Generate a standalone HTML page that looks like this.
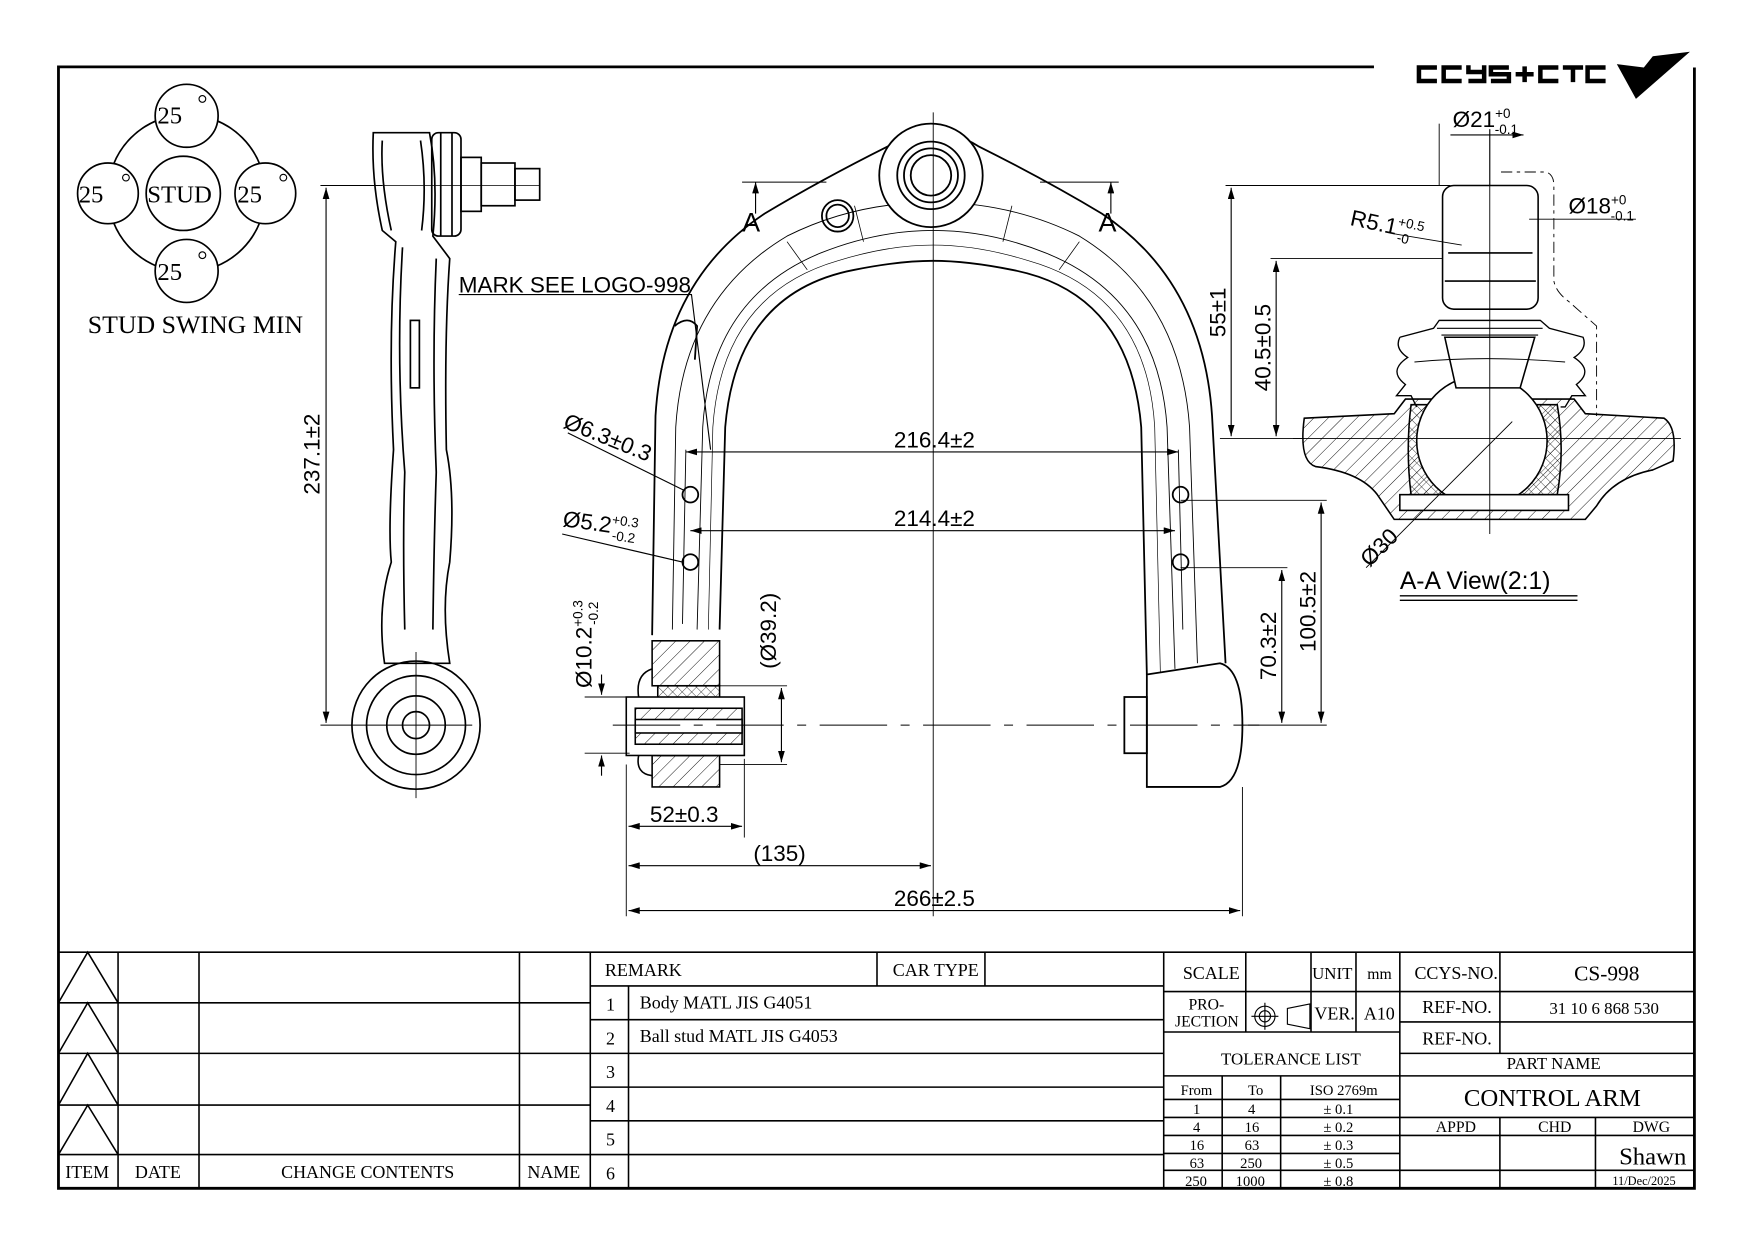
<!DOCTYPE html>
<html><head><meta charset="utf-8"><style>
html,body{margin:0;padding:0;background:#fff;}
svg{display:block}
.s{font-family:"Liberation Serif",serif;fill:#000}
.a{font-family:"Liberation Sans",sans-serif;fill:#000}
</style></head><body>
<svg width="1754" height="1240" viewBox="0 0 1560 1103" preserveAspectRatio="none" xmlns="http://www.w3.org/2000/svg">
<defs>
<pattern id="h" patternUnits="userSpaceOnUse" width="9" height="9" patternTransform="rotate(45)"><line x1="0" y1="0" x2="0" y2="9" stroke="#000" stroke-width="0.8"/></pattern>
<pattern id="x" patternUnits="userSpaceOnUse" width="6" height="6" patternTransform="rotate(45)"><path d="M0 0V6M0 0H6" stroke="#000" stroke-width="0.6"/></pattern>
<marker id="ar" viewBox="0 0 10 6" refX="10" refY="3" markerWidth="10" markerHeight="6" orient="auto-start-reverse" markerUnits="userSpaceOnUse"><path d="M0 0L10 3L0 6z"/></marker>
</defs>
<rect width="1560" height="1103" fill="#fff"/>
<g stroke="#000" stroke-width="2.5" fill="none">
<path d="M1222 59.5H52V1057H1507V60"/>
</g>
<!-- logo -->
<g fill="none" stroke="#000" stroke-width="4">
<path d="M1278 60H1262V72H1278M1300 60H1284V72H1300M1306 58V64H1320V58M1320 64V72H1306M1342 60H1326V66H1342V72H1326M1348 66H1364M1356 59V73M1386 60H1370V72H1386M1390 60H1408M1399 60V73M1428 60H1412V72H1428"/>
</g>
<path d="M1438 57L1455 88L1503 46L1470 50L1462 60Z" fill="#000"/>
<!-- stud swing -->
<g stroke="#000" stroke-width="1.5" fill="#fff">
<circle cx="166" cy="172" r="70"/>
<circle cx="166" cy="103" r="28"/>
<circle cx="96" cy="172" r="27"/>
<circle cx="236" cy="172" r="27"/>
<circle cx="166" cy="241" r="28"/>
<circle cx="163" cy="172" r="33"/>
</g>
<g class="s" font-size="22"><text x="140" y="110">25</text><text x="70" y="180">25</text><text x="211" y="180">25</text><text x="140" y="249">25</text><text x="131" y="180">STUD</text>
<text x="78" y="296" font-size="23">STUD SWING MIN</text></g>
<g fill="none" stroke="#000" stroke-width="1"><circle cx="180" cy="88" r="3"/><circle cx="112" cy="158" r="3"/><circle cx="252" cy="158" r="3"/><circle cx="180" cy="227" r="3"/></g>
<!-- side view -->
<g stroke="#000" stroke-width="1.5" fill="none">
<path d="M332 118Q330 160 340 205L352 215Q345 300 350 400Q345 470 348 500Q335 540 342 590L400 590Q392 540 400 500Q405 440 397 400Q395 300 400 230L385 210Q390 160 382 118Z"/>
<path d="M340 125Q338 160 348 205M374 125Q380 165 375 205M358 220Q352 320 360 420Q358 480 360 560M388 230Q384 320 388 420Q386 480 385 560"/>
<rect x="384" y="118" width="26" height="92" rx="6"/>
<path d="M392 118V210M402 118V210"/>
<rect x="410" y="140" width="18" height="48"/>
<rect x="428" y="145" width="30" height="38"/><rect x="458" y="150" width="22" height="28"/>
<circle cx="370" cy="645" r="57"/><circle cx="370" cy="645" r="44"/><circle cx="370" cy="645" r="26"/><circle cx="370" cy="645" r="12"/>
<rect x="365" y="285" width="8" height="60"/>
<line x1="332" y1="165" x2="480" y2="165" stroke-width="0.7"/>
</g>
<g stroke="#000" stroke-width="0.8"><line x1="285" y1="165" x2="340" y2="165"/><line x1="285" y1="645" x2="420" y2="645"/><line x1="370" y1="580" x2="370" y2="710"/></g>
<line x1="290" y1="167" x2="290" y2="643" stroke="#000" stroke-width="1" marker-start="url(#ar)" marker-end="url(#ar)"/>
<text class="a" font-size="20" transform="translate(284 440) rotate(-90)">237.1±2</text>
<!-- main arm -->
<g stroke="#000" stroke-width="1.6" fill="none">
<path d="M580 565L583 370Q590 250 680 190Q730 160 790 130Q830 105 870 130Q930 160 980 190Q1070 250 1078 370L1090 590"/>
<path d="M640 560L645 380Q655 260 760 240Q800 232 830 232Q860 232 900 240Q1005 260 1015 380L1020 600"/>
<path d="M598 560L601 380Q608 265 700 210Q760 180 830 180Q900 180 960 210Q1050 265 1058 380L1065 590" stroke-width="0.8"/>
<path d="M620 560L625 380Q632 265 730 225Q780 205 830 205Q880 205 930 225Q1030 265 1038 380L1045 595" stroke-width="0.8"/>
<path d="M630 560L634 380Q642 262 745 232Q790 218 830 218Q870 218 915 232Q1020 262 1027 380L1032 598" stroke-width="0.6"/>
<path d="M607 555L610 400M1048 400L1052 560" stroke-width="0.8"/>
<path d="M700 215L718 240M960 215L942 240M760 183L768 215M900 183L892 215" stroke-width="0.7"/>
<circle cx="828" cy="156" r="46" fill="#fff"/><circle cx="828" cy="156" r="30"/><circle cx="828" cy="156" r="24"/><circle cx="828" cy="156" r="18"/>
<circle cx="745" cy="192" r="14"/><circle cx="745" cy="192" r="10"/>
<circle cx="614" cy="440" r="7"/><circle cx="614" cy="500" r="7"/><circle cx="1050" cy="440" r="7"/><circle cx="1050" cy="500" r="7"/>
<path d="M600 290Q612 280 620 290L618 320"/>
<path d="M1085 590Q1105 595 1105 645Q1105 695 1085 700L1020 700L1020 600Z"/>
<rect x="1000" y="620" width="20" height="50"/>
</g>
<!-- left bushing -->
<g stroke="#000" stroke-width="1.4">
<rect x="580" y="570" width="60" height="40" fill="url(#h)"/>
<rect x="580" y="672" width="60" height="28" fill="url(#h)"/>
<rect x="585" y="610" width="55" height="12" fill="url(#x)"/>
<rect x="585" y="660" width="55" height="12" fill="url(#x)"/>
<rect x="557" y="620" width="105" height="52" fill="#fff"/>
<rect x="565" y="630" width="95" height="32" fill="url(#h)"/>
<rect x="565" y="640" width="95" height="12" fill="#fff"/>
<path d="M580 595Q565 600 568 620M580 690Q565 688 568 672" fill="none"/>
</g>
<!-- centerlines -->
<g stroke="#000" stroke-width="0.8" fill="none">
<line x1="830" y1="100" x2="830" y2="815"/>
<line x1="545" y1="645" x2="1120" y2="645" stroke-dasharray="60 12 8 12"/>
<line x1="660" y1="162" x2="735" y2="162"/><line x1="925" y1="162" x2="995" y2="162"/>
<line x1="557" y1="680" x2="557" y2="815"/><line x1="662" y1="675" x2="662" y2="745"/><line x1="1105" y1="700" x2="1105" y2="815"/>
<line x1="640" y1="610" x2="700" y2="610"/><line x1="640" y1="680" x2="700" y2="680"/>
<line x1="520" y1="620" x2="560" y2="620"/><line x1="520" y1="670" x2="560" y2="670"/>
<line x1="1090" y1="165" x2="1290" y2="165"/><line x1="1085" y1="390" x2="1160" y2="390"/><line x1="1130" y1="230" x2="1290" y2="230"/>
<line x1="1050" y1="445" x2="1180" y2="445"/><line x1="1050" y1="505" x2="1145" y2="505"/><line x1="1110" y1="645" x2="1180" y2="645"/>
</g>
<g stroke="#000" stroke-width="1" fill="none">
<line x1="672" y1="162" x2="672" y2="190" marker-start="url(#ar)"/><line x1="988" y1="162" x2="988" y2="190" marker-start="url(#ar)"/>
<line x1="610" y1="402" x2="1048" y2="402" marker-start="url(#ar)" marker-end="url(#ar)"/>
<line x1="614" y1="472" x2="1045" y2="472" marker-start="url(#ar)" marker-end="url(#ar)"/>
<line x1="559" y1="735" x2="660" y2="735" marker-start="url(#ar)" marker-end="url(#ar)"/>
<line x1="559" y1="770" x2="828" y2="770" marker-start="url(#ar)" marker-end="url(#ar)"/>
<line x1="559" y1="810" x2="1103" y2="810" marker-start="url(#ar)" marker-end="url(#ar)"/>
<line x1="695" y1="612" x2="695" y2="678" marker-start="url(#ar)" marker-end="url(#ar)"/>
<line x1="535" y1="600" x2="535" y2="618" marker-end="url(#ar)"/><line x1="535" y1="690" x2="535" y2="672" marker-end="url(#ar)"/>
<line x1="1095" y1="167" x2="1095" y2="388" marker-start="url(#ar)" marker-end="url(#ar)"/>
<line x1="1135" y1="232" x2="1135" y2="388" marker-start="url(#ar)" marker-end="url(#ar)"/>
<line x1="1140" y1="507" x2="1140" y2="643" marker-start="url(#ar)" marker-end="url(#ar)"/>
<line x1="1175" y1="447" x2="1175" y2="643" marker-start="url(#ar)" marker-end="url(#ar)"/>
<path d="M408 262H615L632 400" /><path d="M505 385L608 436"/><path d="M500 475L607 500"/>
</g>
<g class="a" font-size="20">
<text x="660" y="206" font-size="24">A</text><text x="977" y="206" font-size="24">A</text>
<text x="408" y="260">MARK SEE LOGO-998</text>
<text x="795" y="398">216.4±2</text><text x="795" y="468">214.4±2</text>
<text x="578" y="731">52±0.3</text><text x="670" y="766">(135)</text><text x="795" y="806">266±2.5</text>
<text transform="translate(690 595) rotate(-90)">(Ø39.2)</text>
<text transform="translate(526 612) rotate(-90)">Ø10.2<tspan font-size="12" dy="-8">+0.3</tspan><tspan font-size="12" dx="-22" dy="14">-0.2</tspan></text>
<text transform="translate(500 380) rotate(22)">Ø6.3±0.3</text>
<text transform="translate(500 468) rotate(8)">Ø5.2<tspan font-size="12" dy="-8">+0.3</tspan><tspan font-size="12" dx="-22" dy="14">-0.2</tspan></text>
<text transform="translate(1090 300) rotate(-90)">55±1</text>
<text transform="translate(1130 348) rotate(-90)">40.5±0.5</text>
<text transform="translate(1135 605) rotate(-90)">70.3±2</text>
<text transform="translate(1170 580) rotate(-90)">100.5±2</text>
</g>
<!-- A-A view -->
<g stroke="#000" stroke-width="1.4">
<path d="M1160 372L1240 368L1250 355L1400 355L1410 368L1480 372Q1492 380 1488 410L1470 418Q1435 425 1420 450L1410 462L1240 462L1225 440Q1210 420 1170 415Q1155 410 1160 372Z" fill="url(#h)"/>
<path d="M1255 360Q1250 400 1255 440L1385 440Q1392 400 1385 360Z" fill="url(#x)"/>
<circle cx="1318" cy="392" r="58" fill="#fff"/>
<rect x="1245" y="440" width="150" height="14" fill="#fff"/>
<rect x="1283" y="165" width="85" height="110" rx="10" fill="#fff"/>
<path d="M1288 225H1363M1285 250H1366" fill="none"/>
<path d="M1245 300L1275 292L1280 285H1370L1378 292L1408 300Q1412 310 1400 318Q1418 330 1402 342L1410 352H1398L1392 362H1388M1245 300Q1240 310 1252 318Q1234 330 1250 342L1242 352H1255L1260 362" fill="none" stroke-width="1.2"/>
<path d="M1280 285H1370M1278 292H1372M1282 298H1368" fill="none" stroke-width="1"/>
<path d="M1285 300L1365 300L1352 345L1295 345Z" fill="#fff"/>
<path d="M1258 322Q1320 316 1392 322" fill="none" stroke-width="0.8"/>
</g>
<g stroke="#000" stroke-width="0.8" fill="none">
<line x1="1325" y1="115" x2="1325" y2="475"/><line x1="1150" y1="390" x2="1495" y2="390"/>
<line x1="1280" y1="110" x2="1280" y2="165"/><line x1="1325" y1="115" x2="1325" y2="165"/>
<path d="M1335 153H1375Q1382 155 1382 165V250Q1384 260 1395 268L1420 290V370" stroke-dasharray="10 4 3 4"/>
<line x1="1215" y1="505" x2="1345" y2="375"/>
<line x1="1240" y1="208" x2="1300" y2="218"/>
<line x1="1360" y1="195" x2="1455" y2="195"/>
</g>
<line x1="1290" y1="120" x2="1355" y2="120" stroke="#000" stroke-width="1" marker-end="url(#ar)"/>
<g class="a" font-size="20">
<text x="1292" y="113">Ø21<tspan font-size="12" dy="-8">+0</tspan><tspan font-size="12" dx="-14" dy="14">-0.1</tspan></text>
<text x="1395" y="190">Ø18<tspan font-size="12" dy="-8">+0</tspan><tspan font-size="12" dx="-14" dy="14">-0.1</tspan></text>
<text transform="translate(1200 200) rotate(12)">R5.1<tspan font-size="12" dy="-8">+0.5</tspan><tspan font-size="12" dx="-22" dy="14">-0</tspan></text>
<text transform="translate(1218 505) rotate(-45)">Ø30</text>
<text x="1245" y="524" font-size="22">A-A View(2:1)</text>
</g>
<path d="M1245 530H1403M1245 534H1403" stroke="#000" stroke-width="1.2"/>
<!-- title block -->
<g stroke="#000" stroke-width="1.4" fill="none">
<path d="M52 847H1507"/>
<path d="M105 847V1057M177 847V1057M462 847V1057M525 847V1057"/>
<path d="M52 892H525M52 937H525M52 983H525M52 1027H525"/>
<path d="M52 892L78 847L105 892M52 937L78 892L105 937M52 983L78 937L105 983M52 1027L78 983L105 1027"/>
<path d="M525 877H1035M559 877V1057M525 907H1035M525 937H1035M525 967H1035M525 997H1035M525 1027H1035"/>
<path d="M780 847V877M876 847V877"/>
<path d="M1035 847V1057M1245 847V1057"/>
<path d="M1035 882H1245M1108 847V918M1166 847V918M1206 847V918M1035 918H1245M1035 957H1245M1035 978H1245M1035 994H1245M1035 1010H1245M1035 1026H1245M1035 1041H1245M1087 957V1057M1139 957V1057"/>
<path d="M1245 882H1507M1245 909H1507M1245 937H1507M1245 957H1507M1245 994H1507M1245 1010H1507M1245 1041H1507M1334 847V937M1334 994V1057M1419 994V1057"/>
</g>
<g fill="none" stroke="#000" stroke-width="1"><circle cx="1125" cy="904" r="9"/><circle cx="1125" cy="904" r="5"/><path d="M1113 904H1137M1125 892V916M1145 897L1165 893V915L1145 911Z"/></g>
<g class="s" font-size="16">
<text x="58" y="1048">ITEM</text><text x="120" y="1048">DATE</text><text x="250" y="1048">CHANGE CONTENTS</text><text x="469" y="1048">NAME</text>
<text x="538" y="868">REMARK</text><text x="794" y="868">CAR TYPE</text>
<text x="539" y="899">1</text><text x="539" y="929">2</text><text x="539" y="959">3</text><text x="539" y="989">4</text><text x="539" y="1019">5</text><text x="539" y="1049">6</text>
<text x="569" y="897">Body MATL JIS G4051</text><text x="569" y="927">Ball stud MATL JIS G4053</text>
<text x="1052" y="871">SCALE</text><text x="1167" y="871" font-size="15">UNIT</text><text x="1216" y="871" font-size="14">mm</text>
<text x="1057" y="898" font-size="14">PRO-</text><text x="1045" y="913" font-size="14">JECTION</text>
<text x="1169" y="907">VER.</text><text x="1213" y="907">A10</text>
<text x="1086" y="947" font-size="15">TOLERANCE LIST</text>
<g font-size="13"><text x="1050" y="974">From</text><text x="1110" y="974">To</text><text x="1165" y="974">ISO 2769m</text>
<text x="1061" y="991">1</text><text x="1110" y="991">4</text><text x="1177" y="991">± 0.1</text>
<text x="1061" y="1007">4</text><text x="1107" y="1007">16</text><text x="1177" y="1007">± 0.2</text>
<text x="1058" y="1023">16</text><text x="1107" y="1023">63</text><text x="1177" y="1023">± 0.3</text>
<text x="1058" y="1039">63</text><text x="1103" y="1039">250</text><text x="1177" y="1039">± 0.5</text>
<text x="1054" y="1055">250</text><text x="1099" y="1055">1000</text><text x="1177" y="1055">± 0.8</text></g>
<text x="1258" y="871">CCYS-NO.</text><text x="1400" y="872" font-size="19">CS-998</text>
<text x="1265" y="901">REF-NO.</text><text x="1378" y="902" font-size="15">31 10 6 868 530</text>
<text x="1265" y="929">REF-NO.</text>
<text x="1340" y="951" font-size="15">PART NAME</text>
<text x="1302" y="984" font-size="22">CONTROL ARM</text>
<text x="1277" y="1007" font-size="14">APPD</text><text x="1368" y="1007" font-size="14">CHD</text><text x="1452" y="1007" font-size="14">DWG</text>
<text x="1440" y="1036" font-size="22">Shawn</text>
<text x="1434" y="1054" font-size="11">11/Dec/2025</text>
</g>
</svg>
</body></html>
